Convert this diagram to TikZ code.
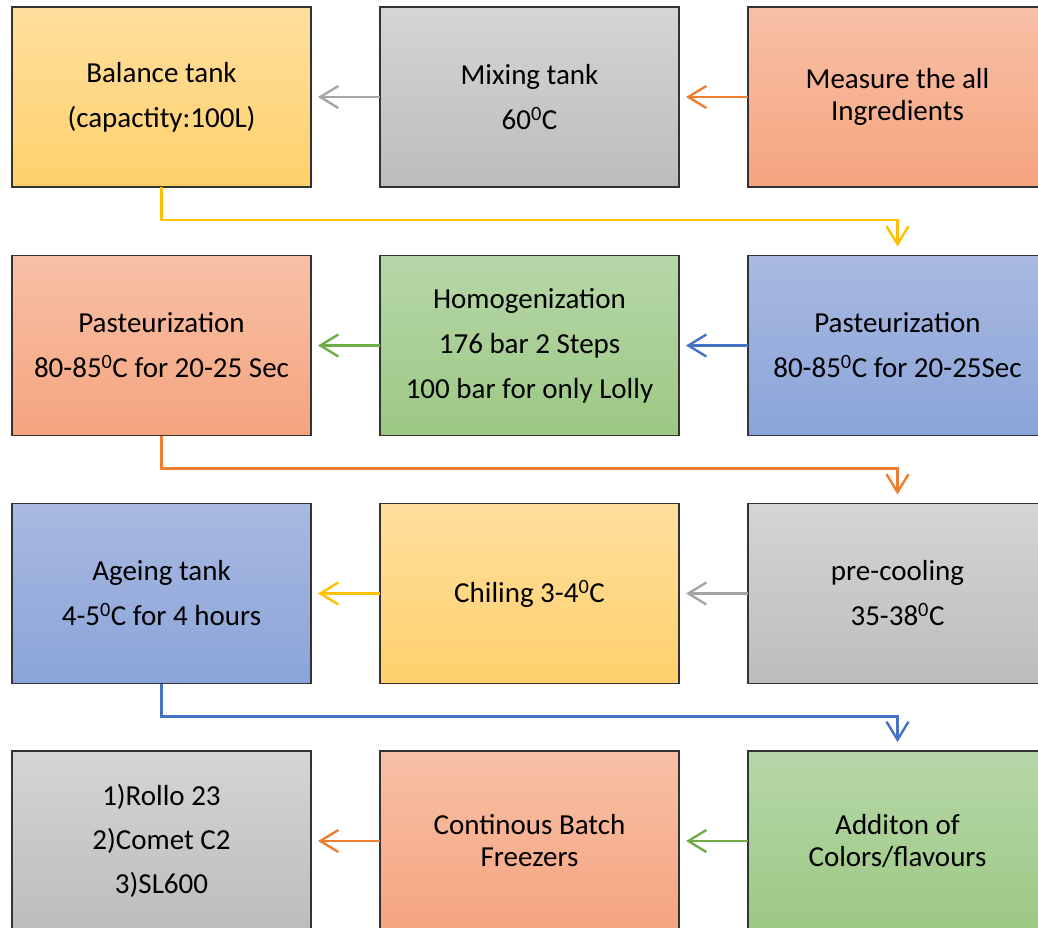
\documentclass[tikz,border=0pt]{standalone}
\usepackage{fontspec}
\setmainfont{Carlito}
\usetikzlibrary{arrows.meta}

% Office-style palette
\definecolor{yelT}{HTML}{FFDF9E}
\definecolor{yelB}{HTML}{FFD16C}
\definecolor{gryT}{HTML}{D5D5D5}
\definecolor{gryB}{HTML}{BCBCBC}
\definecolor{orgT}{HTML}{F8C0A6}
\definecolor{orgB}{HTML}{F5A47F}
\definecolor{grnT}{HTML}{B6D7A8}
\definecolor{grnB}{HTML}{9CC884}
\definecolor{bluT}{HTML}{A9B9E1}
\definecolor{bluB}{HTML}{8AA4D9}
\definecolor{lnGray}{HTML}{A5A5A5}
\definecolor{lnOrange}{HTML}{ED7D31}
\definecolor{lnYellow}{HTML}{FFC000}
\definecolor{lnGreen}{HTML}{70AD47}
\definecolor{lnBlue}{HTML}{4472C4}

\tikzset{
  stage/.style={draw=black!80, line width=1.3pt, minimum width=299pt,
    minimum height=180pt, inner sep=0pt, outer sep=0pt, align=center,
    font=\fontsize{29}{32}\selectfont},
  yel/.style={stage, top color=yelT, bottom color=yelB},
  gry/.style={stage, top color=gryT, bottom color=gryB},
  org/.style={stage, top color=orgT, bottom color=orgB},
  grn/.style={stage, top color=grnT, bottom color=grnB},
  blu/.style={stage, top color=bluT, bottom color=bluB},
  flow/.style={line width=2.4pt,
    -{Straight Barb[length=18pt,width=22pt]}},
  sideflow/.style={flow, shorten >=7pt},
  downflow/.style={flow, shorten >=9pt},
}
\newcommand{\dgr}{\textsuperscript{0}}

\begin{document}
\begin{tikzpicture}[x=1pt,y=-1pt]
  \useasboundingbox (0,0) rectangle (1038,928);
  \clip (0,0) rectangle (1038,928);

  % row 1
  \node[yel] (bal) at (161.5,97) {Balance tank\\[13pt](capactity:100L)};
  \node[gry] (mix) at (529.5,97) {Mixing tank\\[13pt]60\dgr C};
  \node[org] (meas) at (897.5,97) {Measure the all\\Ingredients};
  % row 2
  \node[org] (past2) at (161.5,345.5) {Pasteurization\\[13pt]80-85\dgr C for 20-25 Sec};
  \node[grn] (homo) at (529.5,345.5) {Homogenization\\[13pt]176 bar 2 Steps\\[13pt]100 bar for only Lolly};
  \node[blu] (past1) at (897.5,345.5) {Pasteurization\\[13pt]80-85\dgr C for 20-25Sec};
  % row 3
  \node[blu] (age) at (161.5,593.5) {Ageing tank\\[13pt]4-5\dgr C for 4 hours};
  \node[yel] (chil) at (529.5,593.5) {Chiling 3-4\dgr C};
  \node[gry] (pre) at (897.5,593.5) {pre-cooling\\[13pt]35-38\dgr C};
  % row 4
  \node[gry] (mach) at (161.5,841) {1)Rollo 23\\[12pt]2)Comet C2\\[12pt]3)SL600};
  \node[org] (frz) at (529.5,841) {Continous Batch\\Freezers};
  \node[grn] (col) at (897.5,841) {Additon of\\Colors/flavours};

  % sideways steps
  \draw[sideflow, lnOrange] (meas.west) -- (mix.east);
  \draw[sideflow, lnGray] (mix.west) -- (bal.east);
  \draw[sideflow, lnBlue] (past1.west) -- (homo.east);
  \draw[sideflow, lnGreen] (homo.west) -- (past2.east);
  \draw[sideflow, lnGray] (pre.west) -- (chil.east);
  \draw[sideflow, lnYellow] (chil.west) -- (age.east);
  \draw[sideflow, lnGreen] (col.west) -- (frz.east);
  \draw[sideflow, lnOrange] (frz.west) -- (mach.east);

  % turns to the next row
  \draw[downflow, lnYellow] (bal.south) -- ++(0,33) -| (past1.north);
  \draw[downflow, lnOrange] (past2.south) -- ++(0,33) -| (pre.north);
  \draw[downflow, lnBlue] (age.south) -- ++(0,33) -| (col.north);
\end{tikzpicture}
\end{document}
